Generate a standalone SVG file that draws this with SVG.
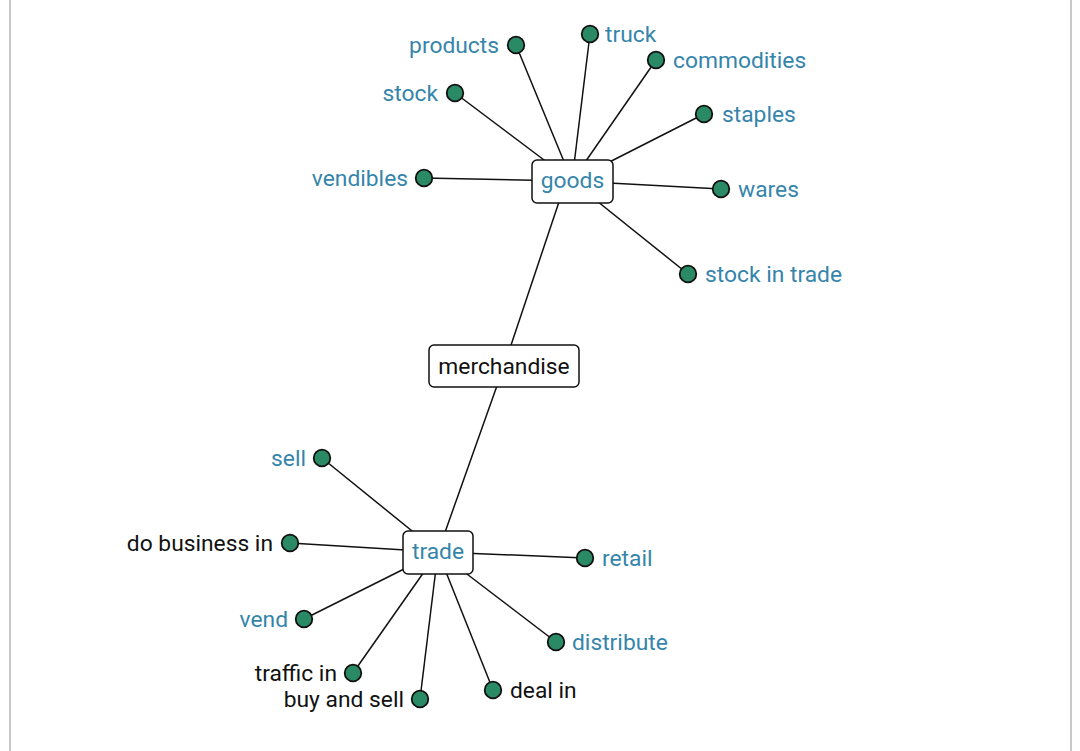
<svg xmlns="http://www.w3.org/2000/svg" width="1080" height="751" viewBox="0 0 1080 751">
<style>
.bg{fill:#fff}
.frame{stroke:#c8c8c8;stroke-width:2}
.edge{stroke:#111;stroke-width:1.5;fill:none}
.dot{fill:#2a8a66;stroke:#111;stroke-width:1.8}
.box{fill:#fff;stroke:#111;stroke-width:1.5}
.t{font-family:Roboto,"Liberation Sans",sans-serif;font-size:22.8px}
.b{fill:#3585ab}
.k{fill:#111}
.s{text-anchor:start}
.e{text-anchor:end}
.m{text-anchor:middle}
</style>
<rect class="bg" x="0" y="0" width="1080" height="751"/>
<line class="frame" x1="10" y1="0" x2="10" y2="751"/>
<line class="frame" x1="1071" y1="0" x2="1071" y2="751"/>
<g id="connectors">
<line class="edge" x1="516" y1="45" x2="572" y2="181"/>
<line class="edge" x1="590" y1="34" x2="572" y2="181"/>
<line class="edge" x1="656" y1="60" x2="572" y2="181"/>
<line class="edge" x1="455" y1="93" x2="572" y2="181"/>
<line class="edge" x1="704" y1="114" x2="572" y2="181"/>
<line class="edge" x1="424" y1="178" x2="572" y2="181"/>
<line class="edge" x1="721" y1="189" x2="572" y2="181"/>
<line class="edge" x1="688" y1="274" x2="572" y2="181"/>
<line class="edge" x1="566" y1="181" x2="504" y2="366"/>
<line class="edge" x1="504" y1="366" x2="438" y2="552"/>
<line class="edge" x1="322" y1="458" x2="438" y2="552"/>
<line class="edge" x1="290" y1="543" x2="438" y2="552"/>
<line class="edge" x1="585" y1="558" x2="438" y2="552"/>
<line class="edge" x1="304" y1="619" x2="438" y2="552"/>
<line class="edge" x1="556" y1="642" x2="438" y2="552"/>
<line class="edge" x1="353" y1="673" x2="438" y2="552"/>
<line class="edge" x1="420" y1="699" x2="438" y2="552"/>
<line class="edge" x1="493" y1="690" x2="438" y2="552"/>
</g>
<g id="n-goods"><rect class="box" x="532" y="160" width="81" height="43" rx="5"/><text class="t b m" x="572.5" y="188">goods</text></g>
<g id="n-merchandise"><rect class="box" x="429" y="345" width="150" height="42" rx="5"/><text class="t k m" x="504" y="374">merchandise</text></g>
<g id="n-trade"><rect class="box" x="403" y="531" width="70" height="43" rx="5"/><text class="t b m" x="438" y="559">trade</text></g>
<g id="n-products"><circle class="dot" cx="516" cy="45" r="8.3"/><text class="t b e" x="499" y="53">products</text></g>
<g id="n-truck"><circle class="dot" cx="590" cy="34" r="8.3"/><text class="t b s" x="605" y="42">truck</text></g>
<g id="n-commodities"><circle class="dot" cx="656" cy="60" r="8.3"/><text class="t b s" x="673" y="68">commodities</text></g>
<g id="n-stock"><circle class="dot" cx="455" cy="93" r="8.3"/><text class="t b e" x="438" y="101">stock</text></g>
<g id="n-staples"><circle class="dot" cx="704" cy="114" r="8.3"/><text class="t b s" x="722" y="122">staples</text></g>
<g id="n-vendibles"><circle class="dot" cx="424" cy="178" r="8.3"/><text class="t b e" x="408" y="186">vendibles</text></g>
<g id="n-wares"><circle class="dot" cx="721" cy="189" r="8.3"/><text class="t b s" x="738" y="197">wares</text></g>
<g id="n-stockintrade"><circle class="dot" cx="688" cy="274" r="8.3"/><text class="t b s" x="705" y="282">stock in trade</text></g>
<g id="n-sell"><circle class="dot" cx="322" cy="458" r="8.3"/><text class="t b e" x="306" y="466">sell</text></g>
<g id="n-dobusinessin"><circle class="dot" cx="290" cy="543" r="8.3"/><text class="t k e" x="273" y="551">do business in</text></g>
<g id="n-retail"><circle class="dot" cx="585" cy="558" r="8.3"/><text class="t b s" x="602" y="566">retail</text></g>
<g id="n-vend"><circle class="dot" cx="304" cy="619" r="8.3"/><text class="t b e" x="288" y="627">vend</text></g>
<g id="n-distribute"><circle class="dot" cx="556" cy="642" r="8.3"/><text class="t b s" x="572" y="650">distribute</text></g>
<g id="n-trafficin"><circle class="dot" cx="353" cy="673" r="8.3"/><text class="t k e" x="337" y="681">traffic in</text></g>
<g id="n-buyandsell"><circle class="dot" cx="420" cy="699" r="8.3"/><text class="t k e" x="404" y="707">buy and sell</text></g>
<g id="n-dealin"><circle class="dot" cx="493" cy="690" r="8.3"/><text class="t k s" x="510" y="698">deal in</text></g>
</svg>
